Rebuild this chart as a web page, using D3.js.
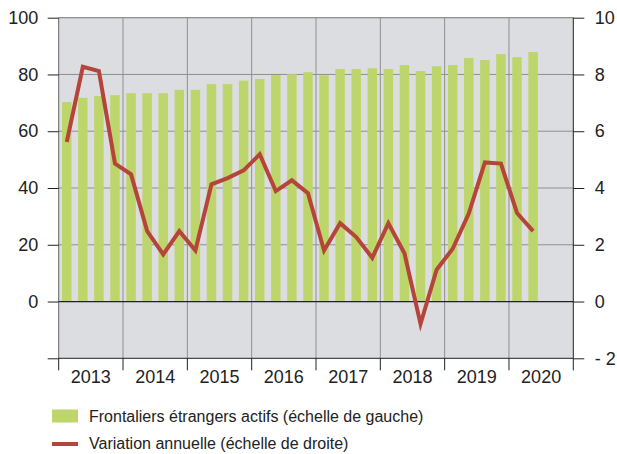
<!DOCTYPE html>
<html><head><meta charset="utf-8">
<script src="https://cdn.jsdelivr.net/npm/d3@7"></script>
<style>body{margin:0;background:#fff}svg{display:block;font-family:"Liberation Sans",Arial,sans-serif}</style>
</head><body><svg id="c" width="617" height="454"></svg>
<script>
const years = ["2013","2014","2015","2016","2017","2018","2019","2020"];
const quarters = ["2013Q1","2013Q2","2013Q3","2013Q4","2014Q1","2014Q2","2014Q3","2014Q4","2015Q1","2015Q2","2015Q3","2015Q4","2016Q1","2016Q2","2016Q3","2016Q4","2017Q1","2017Q2","2017Q3","2017Q4","2018Q1","2018Q2","2018Q3","2018Q4","2019Q1","2019Q2","2019Q3","2019Q4","2020Q1","2020Q2"];
const frontaliers = [70.3,71.8,72.4,72.7,73.4,73.4,73.4,74.6,74.6,76.6,76.6,77.8,78.4,79.8,80.1,80.8,79.7,81.9,81.9,82.2,81.9,83.3,81.2,82.9,83.3,85.8,85.1,87.2,86.1,87.9];
const variation = [5.62,8.27,8.12,4.86,4.48,2.48,1.66,2.48,1.80,4.13,4.35,4.62,5.19,3.89,4.27,3.82,1.80,2.76,2.27,1.54,2.76,1.70,-0.79,1.12,1.86,3.10,4.90,4.86,3.12,2.48];
const leftTicks = [-20,0,20,40,60,80,100];
const leftLabels = ["","0","20","40","60","80","100"];
const rightTicks = [-2,0,2,4,6,8,10];
const rightLabels = ["- 2","0","2","4","6","8","10"];
const legendLabels = ["Frontaliers étrangers actifs (échelle de gauche)","Variation annuelle (échelle de droite)"];

const svg = d3.select("#c");
const L = 58.7, R = 573.3, T = 17.7, B = 358.3;
const yL = d3.scaleLinear().domain([-20,100]).range([B,T]);
const yR = d3.scaleLinear().domain([-2,10]).range([B,T]);
const xYear = d3.scaleBand().domain(years).range([L,R]);
const allQ = years.flatMap(y=>["Q1","Q2","Q3","Q4"].map(q=>y+q));
const xQ = d3.scaleBand().domain(allQ).range([L,R]).paddingInner(0.41).paddingOuter(0.205);

svg.append("rect").attr("x",L).attr("y",T).attr("width",R-L).attr("height",B-T).attr("fill","#dcdde0");
svg.append("g").selectAll("line").data(leftTicks.filter(d=>d!==0&&d!==-20)).join("line")
  .attr("x1",L).attr("x2",R).attr("y1",d=>yL(d)).attr("y2",d=>yL(d)).attr("stroke","#8f8f8f").attr("stroke-width",1);
svg.append("g").selectAll("line").data(years.slice(1)).join("line")
  .attr("x1",d=>xYear(d)).attr("x2",d=>xYear(d)).attr("y1",T).attr("y2",B).attr("stroke","#8f8f8f").attr("stroke-width",1);
svg.append("g").selectAll("rect").data(quarters).join("rect")
  .attr("x",d=>xQ(d)).attr("width",xQ.bandwidth())
  .attr("y",(d,i)=>yL(frontaliers[i])).attr("height",(d,i)=>yL(0)-yL(frontaliers[i]))
  .attr("fill","#bdd66b");
svg.append("line").attr("x1",L).attr("x2",R).attr("y1",yL(0)).attr("y2",yL(0)).attr("stroke","#222").attr("stroke-width",1.2);
const line = d3.line().x((d,i)=>xQ(quarters[i])+xQ.bandwidth()/2).y(d=>yR(d));
svg.append("path").datum(variation).attr("d",line).attr("fill","none").attr("stroke","#b5443a").attr("stroke-width",4).attr("stroke-linejoin","miter");
svg.append("line").attr("x1",L).attr("x2",L).attr("y1",T).attr("y2",B).attr("stroke","#666");
svg.append("line").attr("x1",R).attr("x2",R).attr("y1",T).attr("y2",B).attr("stroke","#222");
svg.append("line").attr("x1",L).attr("x2",R).attr("y1",B).attr("y2",B).attr("stroke","#222");
svg.append("line").attr("x1",L).attr("x2",R).attr("y1",T).attr("y2",T).attr("stroke","#8f8f8f");
const gl = svg.append("g").attr("transform",`translate(${L},0)`).call(d3.axisLeft(yL).tickValues(leftTicks).tickSize(11).tickFormat((d,i)=>leftLabels[i]));
gl.select(".domain").remove();
gl.selectAll(".tick line").attr("stroke","#222");
gl.selectAll("text").attr("font-size","18px").attr("fill","#222").attr("x",-20.5).attr("font-family","Liberation Sans, Arial, sans-serif");
const gr = svg.append("g").attr("transform",`translate(${R},0)`).call(d3.axisRight(yR).tickValues(rightTicks).tickSize(11).tickFormat((d,i)=>rightLabels[i]));
gr.select(".domain").remove();
gr.selectAll(".tick line").attr("stroke","#222");
gr.selectAll("text").attr("font-size","18px").attr("fill","#222").attr("x",21.5).attr("font-family","Liberation Sans, Arial, sans-serif");
svg.append("g").selectAll("line").data(years.map(d=>xYear(d)).concat([R])).join("line")
  .attr("x1",d=>d).attr("x2",d=>d).attr("y1",B).attr("y2",B+12).attr("stroke","#222");
svg.append("g").selectAll("text").data(years).join("text")
  .attr("x",d=>xYear(d)+xYear.bandwidth()/2).attr("y",382.5).attr("text-anchor","middle")
  .attr("font-size","18px").attr("fill","#222").text(d=>d);
const lg = svg.append("g");
lg.append("rect").attr("x",52).attr("y",409.5).attr("width",26).attr("height",13).attr("fill","#bdd66b");
lg.append("line").attr("x1",52).attr("x2",78).attr("y1",444).attr("y2",444).attr("stroke","#b5443a").attr("stroke-width",4);
lg.selectAll("text").data(legendLabels).join("text")
  .attr("x",89).attr("y",(d,i)=>422+i*27).attr("font-size","16px").attr("fill","#222").text(d=>d);
</script></body></html>
